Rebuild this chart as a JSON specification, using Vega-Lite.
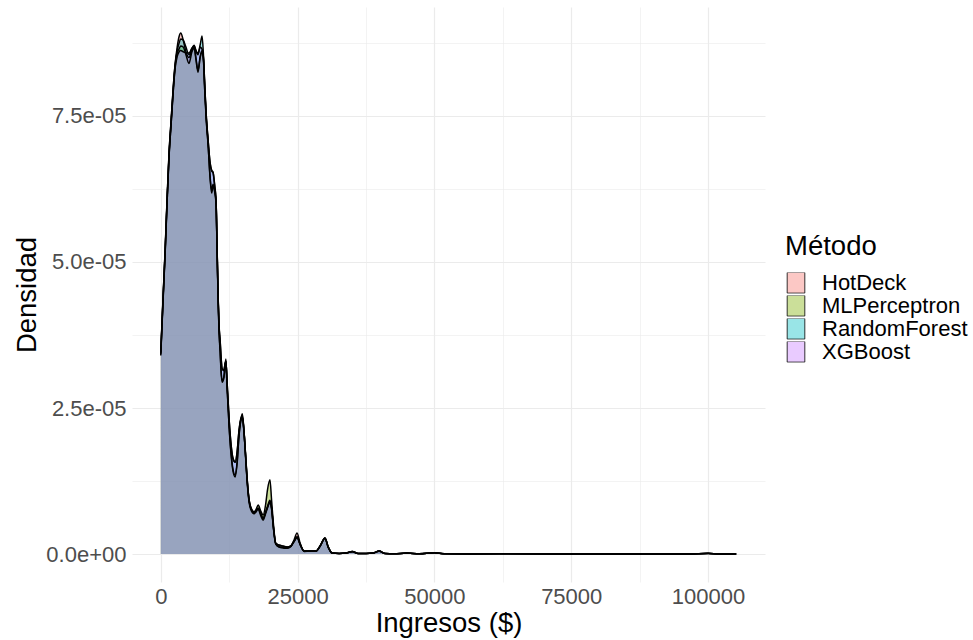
{
"$schema": "https://vega.github.io/schema/vega-lite/v6.json",
"width": 633, "height": 575,
"autosize": {"type": "none"},
"padding": {"left": 132, "top": 7, "right": 208, "bottom": 58},
"background": "white",
"config": {"view": {"stroke": null}, "font": "Liberation Sans"},
"data": {"values": [
{"x":0,"HotDeck":3.44e-5,"MLPerceptron":3.40e-5,"RandomForest":3.46e-5,"XGBoost":3.42e-5},
{"x":400,"HotDeck":4.35e-5,"MLPerceptron":4.30e-5,"RandomForest":4.36e-5,"XGBoost":4.32e-5},
{"x":800,"HotDeck":5.20e-5,"MLPerceptron":5.15e-5,"RandomForest":5.22e-5,"XGBoost":5.17e-5},
{"x":1150,"HotDeck":6.06e-5,"MLPerceptron":6.01e-5,"RandomForest":6.08e-5,"XGBoost":6.02e-5},
{"x":1500,"HotDeck":6.83e-5,"MLPerceptron":6.78e-5,"RandomForest":6.85e-5,"XGBoost":6.79e-5},
{"x":1900,"HotDeck":7.43e-5,"MLPerceptron":7.38e-5,"RandomForest":7.44e-5,"XGBoost":7.38e-5},
{"x":2250,"HotDeck":7.94e-5,"MLPerceptron":7.90e-5,"RandomForest":7.95e-5,"XGBoost":7.88e-5},
{"x":2600,"HotDeck":8.37e-5,"MLPerceptron":8.32e-5,"RandomForest":8.36e-5,"XGBoost":8.30e-5},
{"x":3000,"HotDeck":8.68e-5,"MLPerceptron":8.58e-5,"RandomForest":8.62e-5,"XGBoost":8.52e-5},
{"x":3350,"HotDeck":8.86e-5,"MLPerceptron":8.65e-5,"RandomForest":8.75e-5,"XGBoost":8.60e-5},
{"x":3650,"HotDeck":8.92e-5,"MLPerceptron":8.70e-5,"RandomForest":8.82e-5,"XGBoost":8.62e-5},
{"x":4100,"HotDeck":8.80e-5,"MLPerceptron":8.68e-5,"RandomForest":8.80e-5,"XGBoost":8.60e-5},
{"x":4600,"HotDeck":8.60e-5,"MLPerceptron":8.55e-5,"RandomForest":8.68e-5,"XGBoost":8.58e-5},
{"x":5150,"HotDeck":8.50e-5,"MLPerceptron":8.40e-5,"RandomForest":8.55e-5,"XGBoost":8.58e-5},
{"x":5700,"HotDeck":8.63e-5,"MLPerceptron":8.60e-5,"RandomForest":8.66e-5,"XGBoost":8.66e-5},
{"x":6100,"HotDeck":8.68e-5,"MLPerceptron":8.66e-5,"RandomForest":8.70e-5,"XGBoost":8.71e-5},
{"x":6450,"HotDeck":8.45e-5,"MLPerceptron":8.48e-5,"RandomForest":8.62e-5,"XGBoost":8.60e-5},
{"x":6800,"HotDeck":8.25e-5,"MLPerceptron":8.28e-5,"RandomForest":8.57e-5,"XGBoost":8.55e-5},
{"x":7200,"HotDeck":8.50e-5,"MLPerceptron":8.52e-5,"RandomForest":8.72e-5,"XGBoost":8.68e-5},
{"x":7550,"HotDeck":8.60e-5,"MLPerceptron":8.62e-5,"RandomForest":8.87e-5,"XGBoost":8.64e-5},
{"x":7800,"HotDeck":8.45e-5,"MLPerceptron":8.48e-5,"RandomForest":8.54e-5,"XGBoost":8.50e-5},
{"x":8050,"HotDeck":7.90e-5,"MLPerceptron":7.93e-5,"RandomForest":8.00e-5,"XGBoost":7.99e-5},
{"x":8300,"HotDeck":7.45e-5,"MLPerceptron":7.47e-5,"RandomForest":7.52e-5,"XGBoost":7.52e-5},
{"x":8650,"HotDeck":7.00e-5,"MLPerceptron":7.02e-5,"RandomForest":7.08e-5,"XGBoost":7.09e-5},
{"x":9000,"HotDeck":6.45e-5,"MLPerceptron":6.48e-5,"RandomForest":6.71e-5,"XGBoost":6.70e-5},
{"x":9300,"HotDeck":6.18e-5,"MLPerceptron":6.22e-5,"RandomForest":6.57e-5,"XGBoost":6.56e-5},
{"x":9550,"HotDeck":6.30e-5,"MLPerceptron":6.33e-5,"RandomForest":6.54e-5,"XGBoost":6.53e-5},
{"x":9850,"HotDeck":6.20e-5,"MLPerceptron":6.22e-5,"RandomForest":6.32e-5,"XGBoost":6.30e-5},
{"x":10100,"HotDeck":6.00e-5,"MLPerceptron":6.02e-5,"RandomForest":6.06e-5,"XGBoost":6.05e-5},
{"x":10300,"HotDeck":5.15e-5,"MLPerceptron":5.17e-5,"RandomForest":5.20e-5,"XGBoost":5.19e-5},
{"x":10500,"HotDeck":4.28e-5,"MLPerceptron":4.30e-5,"RandomForest":4.35e-5,"XGBoost":4.33e-5},
{"x":10650,"HotDeck":3.80e-5,"MLPerceptron":3.83e-5,"RandomForest":3.92e-5,"XGBoost":3.90e-5},
{"x":10850,"HotDeck":3.45e-5,"MLPerceptron":3.48e-5,"RandomForest":3.66e-5,"XGBoost":3.64e-5},
{"x":11000,"HotDeck":3.15e-5,"MLPerceptron":3.18e-5,"RandomForest":3.41e-5,"XGBoost":3.39e-5},
{"x":11200,"HotDeck":2.94e-5,"MLPerceptron":2.97e-5,"RandomForest":3.18e-5,"XGBoost":3.17e-5},
{"x":11500,"HotDeck":3.00e-5,"MLPerceptron":3.02e-5,"RandomForest":3.14e-5,"XGBoost":3.15e-5},
{"x":11900,"HotDeck":3.34e-5,"MLPerceptron":3.30e-5,"RandomForest":3.31e-5,"XGBoost":3.30e-5},
{"x":12100,"HotDeck":2.88e-5,"MLPerceptron":2.90e-5,"RandomForest":2.97e-5,"XGBoost":2.98e-5},
{"x":12500,"HotDeck":2.15e-5,"MLPerceptron":2.18e-5,"RandomForest":2.29e-5,"XGBoost":2.28e-5},
{"x":12850,"HotDeck":1.70e-5,"MLPerceptron":1.73e-5,"RandomForest":1.87e-5,"XGBoost":1.86e-5},
{"x":13200,"HotDeck":1.42e-5,"MLPerceptron":1.45e-5,"RandomForest":1.64e-5,"XGBoost":1.63e-5},
{"x":13600,"HotDeck":1.32e-5,"MLPerceptron":1.35e-5,"RandomForest":1.575e-5,"XGBoost":1.57e-5},
{"x":13950,"HotDeck":1.55e-5,"MLPerceptron":1.58e-5,"RandomForest":1.75e-5,"XGBoost":1.74e-5},
{"x":14300,"HotDeck":2.02e-5,"MLPerceptron":2.05e-5,"RandomForest":2.12e-5,"XGBoost":2.11e-5},
{"x":14700,"HotDeck":2.33e-5,"MLPerceptron":2.31e-5,"RandomForest":2.34e-5,"XGBoost":2.33e-5},
{"x":14900,"HotDeck":2.40e-5,"MLPerceptron":2.35e-5,"RandomForest":2.37e-5,"XGBoost":2.34e-5},
{"x":15200,"HotDeck":2.12e-5,"MLPerceptron":2.10e-5,"RandomForest":2.11e-5,"XGBoost":2.10e-5},
{"x":15500,"HotDeck":1.66e-5,"MLPerceptron":1.67e-5,"RandomForest":1.69e-5,"XGBoost":1.70e-5},
{"x":15800,"HotDeck":1.22e-5,"MLPerceptron":1.24e-5,"RandomForest":1.26e-5,"XGBoost":1.27e-5},
{"x":16150,"HotDeck":8.8e-6,"MLPerceptron":9.0e-6,"RandomForest":9.2e-6,"XGBoost":9.24e-6},
{"x":16500,"HotDeck":7.5e-6,"MLPerceptron":7.7e-6,"RandomForest":7.8e-6,"XGBoost":7.9e-6},
{"x":17050,"HotDeck":6.9e-6,"MLPerceptron":7.2e-6,"RandomForest":7.1e-6,"XGBoost":7.2e-6},
{"x":17400,"HotDeck":7.2e-6,"MLPerceptron":7.6e-6,"RandomForest":7.4e-6,"XGBoost":7.4e-6},
{"x":17800,"HotDeck":7.7e-6,"MLPerceptron":8.4e-6,"RandomForest":7.9e-6,"XGBoost":7.8e-6},
{"x":18250,"HotDeck":6.6e-6,"MLPerceptron":7.4e-6,"RandomForest":6.9e-6,"XGBoost":7.0e-6},
{"x":18700,"HotDeck":5.8e-6,"MLPerceptron":6.7e-6,"RandomForest":6.0e-6,"XGBoost":6.2e-6},
{"x":19150,"HotDeck":6.9e-6,"MLPerceptron":8.4e-6,"RandomForest":7.1e-6,"XGBoost":7.2e-6},
{"x":19500,"HotDeck":7.9e-6,"MLPerceptron":1.10e-5,"RandomForest":8.0e-6,"XGBoost":8.2e-6},
{"x":19950,"HotDeck":9.0e-6,"MLPerceptron":1.27e-5,"RandomForest":8.8e-6,"XGBoost":9.2e-6},
{"x":20250,"HotDeck":7.8e-6,"MLPerceptron":9.2e-6,"RandomForest":7.7e-6,"XGBoost":8.0e-6},
{"x":20600,"HotDeck":4.4e-6,"MLPerceptron":5.0e-6,"RandomForest":4.3e-6,"XGBoost":4.5e-6},
{"x":21000,"HotDeck":1.7e-6,"MLPerceptron":1.8e-6,"RandomForest":1.8e-6,"XGBoost":1.9e-6},
{"x":21600,"HotDeck":1.2e-6,"MLPerceptron":1.25e-6,"RandomForest":1.54e-6,"XGBoost":1.5e-6},
{"x":22350,"HotDeck":1.05e-6,"MLPerceptron":1.1e-6,"RandomForest":1.37e-6,"XGBoost":1.35e-6},
{"x":23100,"HotDeck":1.0e-6,"MLPerceptron":1.02e-6,"RandomForest":1.2e-6,"XGBoost":1.2e-6},
{"x":23750,"HotDeck":1.3e-6,"MLPerceptron":1.25e-6,"RandomForest":1.37e-6,"XGBoost":1.35e-6},
{"x":24350,"HotDeck":2.4e-6,"MLPerceptron":2.2e-6,"RandomForest":2.2e-6,"XGBoost":2.1e-6},
{"x":24900,"HotDeck":3.6e-6,"MLPerceptron":2.95e-6,"RandomForest":2.9e-6,"XGBoost":2.8e-6},
{"x":25450,"HotDeck":1.9e-6,"MLPerceptron":1.7e-6,"RandomForest":1.7e-6,"XGBoost":1.65e-6},
{"x":26200,"HotDeck":5.1e-7,"MLPerceptron":5.0e-7,"RandomForest":5.0e-7,"XGBoost":4.5e-7},
{"x":27100,"HotDeck":5.0e-7,"MLPerceptron":5.0e-7,"RandomForest":5.0e-7,"XGBoost":4.7e-7},
{"x":28350,"HotDeck":5.1e-7,"MLPerceptron":5.0e-7,"RandomForest":5.0e-7,"XGBoost":4.8e-7},
{"x":29100,"HotDeck":1.37e-6,"MLPerceptron":1.35e-6,"RandomForest":1.36e-6,"XGBoost":1.3e-6},
{"x":30000,"HotDeck":2.74e-6,"MLPerceptron":2.7e-6,"RandomForest":2.75e-6,"XGBoost":2.65e-6},
{"x":30600,"HotDeck":1.2e-6,"MLPerceptron":1.18e-6,"RandomForest":1.2e-6,"XGBoost":1.15e-6},
{"x":31300,"HotDeck":1.7e-7,"MLPerceptron":1.7e-7,"RandomForest":1.7e-7,"XGBoost":1.6e-7},
{"x":32600,"HotDeck":9e-8,"MLPerceptron":9e-8,"RandomForest":9e-8,"XGBoost":9e-8},
{"x":33900,"HotDeck":1.7e-7,"MLPerceptron":1.7e-7,"RandomForest":1.7e-7,"XGBoost":1.6e-7},
{"x":35000,"HotDeck":4.3e-7,"MLPerceptron":4.2e-7,"RandomForest":4.3e-7,"XGBoost":4.0e-7},
{"x":36050,"HotDeck":9e-8,"MLPerceptron":9e-8,"RandomForest":9e-8,"XGBoost":9e-8},
{"x":37550,"HotDeck":9e-8,"MLPerceptron":9e-8,"RandomForest":9e-8,"XGBoost":9e-8},
{"x":38800,"HotDeck":1.7e-7,"MLPerceptron":1.7e-7,"RandomForest":1.7e-7,"XGBoost":1.7e-7},
{"x":39900,"HotDeck":5.1e-7,"MLPerceptron":5.0e-7,"RandomForest":5.0e-7,"XGBoost":4.8e-7},
{"x":41000,"HotDeck":9e-8,"MLPerceptron":9e-8,"RandomForest":9e-8,"XGBoost":9e-8},
{"x":42650,"HotDeck":5e-8,"MLPerceptron":5e-8,"RandomForest":5e-8,"XGBoost":5e-8},
{"x":45000,"HotDeck":1.7e-7,"MLPerceptron":1.6e-7,"RandomForest":1.7e-7,"XGBoost":1.6e-7},
{"x":47200,"HotDeck":3e-8,"MLPerceptron":3e-8,"RandomForest":3e-8,"XGBoost":3e-8},
{"x":50000,"HotDeck":2.1e-7,"MLPerceptron":2.0e-7,"RandomForest":2.1e-7,"XGBoost":2.0e-7},
{"x":51800,"HotDeck":3e-8,"MLPerceptron":3e-8,"RandomForest":3e-8,"XGBoost":3e-8},
{"x":56350,"HotDeck":2e-8,"MLPerceptron":2e-8,"RandomForest":2e-8,"XGBoost":2e-8},
{"x":61850,"HotDeck":3e-8,"MLPerceptron":3e-8,"RandomForest":3e-8,"XGBoost":3e-8},
{"x":71000,"HotDeck":2e-8,"MLPerceptron":2e-8,"RandomForest":2e-8,"XGBoost":2e-8},
{"x":80100,"HotDeck":2e-8,"MLPerceptron":2e-8,"RandomForest":2e-8,"XGBoost":2e-8},
{"x":89250,"HotDeck":1e-8,"MLPerceptron":1e-8,"RandomForest":1e-8,"XGBoost":1e-8},
{"x":96550,"HotDeck":1e-8,"MLPerceptron":1e-8,"RandomForest":1e-8,"XGBoost":1e-8},
{"x":100000,"HotDeck":1.2e-7,"MLPerceptron":1.1e-7,"RandomForest":1.2e-7,"XGBoost":1.1e-7},
{"x":102050,"HotDeck":1e-8,"MLPerceptron":1e-8,"RandomForest":1e-8,"XGBoost":1e-8},
{"x":105150,"HotDeck":5e-9,"MLPerceptron":5e-9,"RandomForest":5e-9,"XGBoost":5e-9}
]},
"transform": [{"fold": ["HotDeck","MLPerceptron","RandomForest","XGBoost"], "as": ["Método","Densidad"]}],
"encoding": {
  "x": {"field": "x", "type": "quantitative",
    "scale": {"domain": [-5257, 110407], "nice": false, "zero": false},
    "axis": {"title": "Ingresos ($)", "values": [0,12500,25000,37500,50000,62500,75000,87500,100000],
      "labelExpr": "datum.value % 25000 === 0 ? format(datum.value, 'd') : ''",
      "labelOverlap": false, "labelFlush": false,
      "domain": false, "ticks": false,
      "grid": true, "gridColor": "#EBEBEB",
      "gridWidth": {"condition": {"test": "datum.value % 25000 !== 0", "value": 0.6}, "value": 1.2},
      "labelFont": "Liberation Sans", "labelFontSize": 22, "labelColor": "#4D4D4D", "labelPadding": 4,
      "titleFont": "Liberation Sans", "titleFontSize": 27.5, "titleFontWeight": "normal", "titleColor": "black",
      "titleBaseline": "alphabetic", "titleY": 49}},
  "y": {"field": "Densidad", "type": "quantitative", "stack": null,
    "scale": {"domain": [-4.79e-6, 9.366e-5], "nice": false, "zero": false},
    "axis": {"title": "Densidad", "values": [0,1.25e-5,2.5e-5,3.75e-5,5e-5,6.25e-5,7.5e-5,8.75e-5],
      "labelExpr": "abs(datum.value) < 1e-12 ? '0.0e+00' : (round(datum.value*1e7) % 250 === 0 ? format(datum.value*1e5, '.1f') + 'e-05' : '')",
      "labelOverlap": false, "labelFlush": false,
      "domain": false, "ticks": false,
      "grid": true, "gridColor": "#EBEBEB",
      "gridWidth": {"condition": {"test": "round(datum.value*1e7) % 250 !== 0", "value": 0.6}, "value": 1.2},
      "labelFont": "Liberation Sans", "labelFontSize": 22, "labelColor": "#4D4D4D", "labelPadding": 6,
      "titleFont": "Liberation Sans", "titleFontSize": 27.5, "titleFontWeight": "normal", "titleColor": "black",
      "titleBaseline": "alphabetic", "titleX": -97, "titleY": 287.5, "titleAlign": "center", "titleAngle": -90}}
},
"layer": [
  {"mark": {"type": "area", "clip": true, "interpolate": "monotone"},
   "encoding": {
     "y2": {"datum": 0},
     "color": {"field": "Método", "type": "nominal",
       "scale": {"domain": ["HotDeck","MLPerceptron","RandomForest","XGBoost"],
                 "range": ["rgba(248,118,109,0.4)","rgba(124,174,0,0.4)","rgba(0,191,196,0.4)","rgba(199,124,255,0.4)"]},
       "legend": {"title": "Método", "orient": "none", "legendX": 653, "legendY": 226,
         "titleFont": "Liberation Sans", "titleFontSize": 27.5, "titleFontWeight": "normal", "titleColor": "black", "titlePadding": 12,
         "labelFont": "Liberation Sans", "labelFontSize": 22, "labelColor": "black", "labelOffset": 15,
         "symbolType": "M-0.85,-1H0.85V1H-0.85Z", "symbolSize": 430, "symbolStrokeColor": "black", "symbolStrokeWidth": 0.8,
         "clipHeight": 20.5, "rowPadding": 0, "padding": 0}}}},
  {"mark": {"type": "line", "color": "black", "strokeWidth": 1.5, "clip": true, "interpolate": "monotone"},
   "encoding": {"detail": {"field": "Método", "type": "nominal"}}}
]
}
